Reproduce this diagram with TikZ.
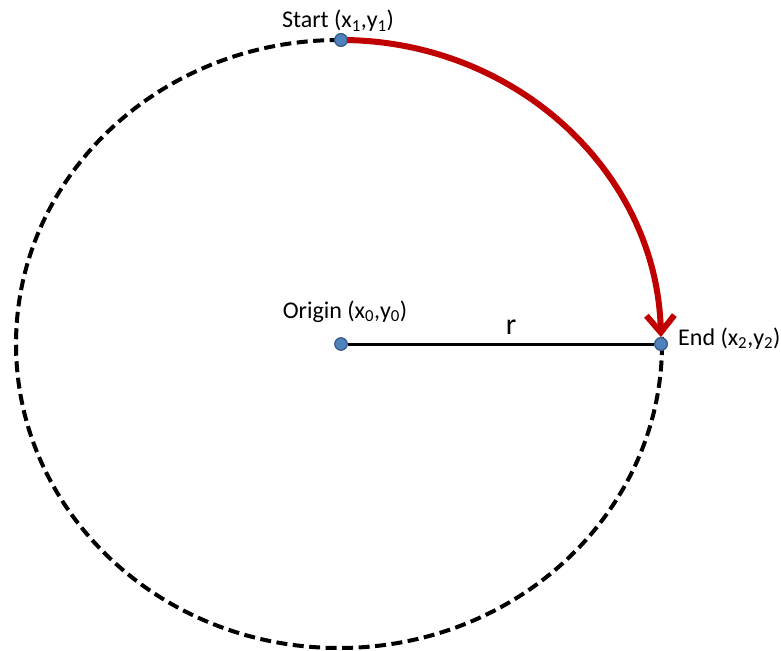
\documentclass[tikz,border=0pt]{standalone}
\usepackage{fontspec}
\setmainfont{Carlito}
\usetikzlibrary{arrows.meta}
\definecolor{dotfill}{RGB}{79,129,189}
\definecolor{dotdraw}{RGB}{56,93,138}
\definecolor{arcred}{RGB}{192,0,0}
\begin{document}
\begin{tikzpicture}[x=1pt,y=-1pt,
  dot/.style={circle,fill=dotfill,draw=dotdraw,line width=1.2pt,minimum size=12.5pt,inner sep=0pt},
  lbl/.style={font=\fontsize{24}{28}\selectfont,inner sep=0pt,anchor=base}]
\useasboundingbox (0,0) rectangle (781,650);
\coordinate (ctr) at (339,344);
\draw[line width=4pt,dash pattern=on 11pt off 5.5pt] (ctr) ellipse[x radius=323,y radius=304];
\node[dot] (origin) at (341,344) {};
\node[dot] (end) at (661,344) {};
\node[dot] (start) at (341,40) {};
\draw[line width=3pt] (origin) -- (end);
\draw[arcred,line width=6pt,-{Straight Barb[length=17pt,width=28pt,line width=6pt]}]
  (start.center) arc[start angle=-90,end angle=-1.3,x radius=320,y radius=304];
\node[dot] at (start) {};
\node[dot] at (end) {};
\node[lbl] (lstart) at (338,28) {Start (x\textsubscript{1},y\textsubscript{1})};
\node[lbl] (lorigin) at (345,318) {Origin (x\textsubscript{0},y\textsubscript{0})};
\node[lbl,anchor=base west] (lend) at (678,345) {End (x\textsubscript{2},y\textsubscript{2})};
\node[lbl,font=\fontsize{30}{34}\selectfont] (lr) at (511,334) {r};
\end{tikzpicture}
\end{document}
